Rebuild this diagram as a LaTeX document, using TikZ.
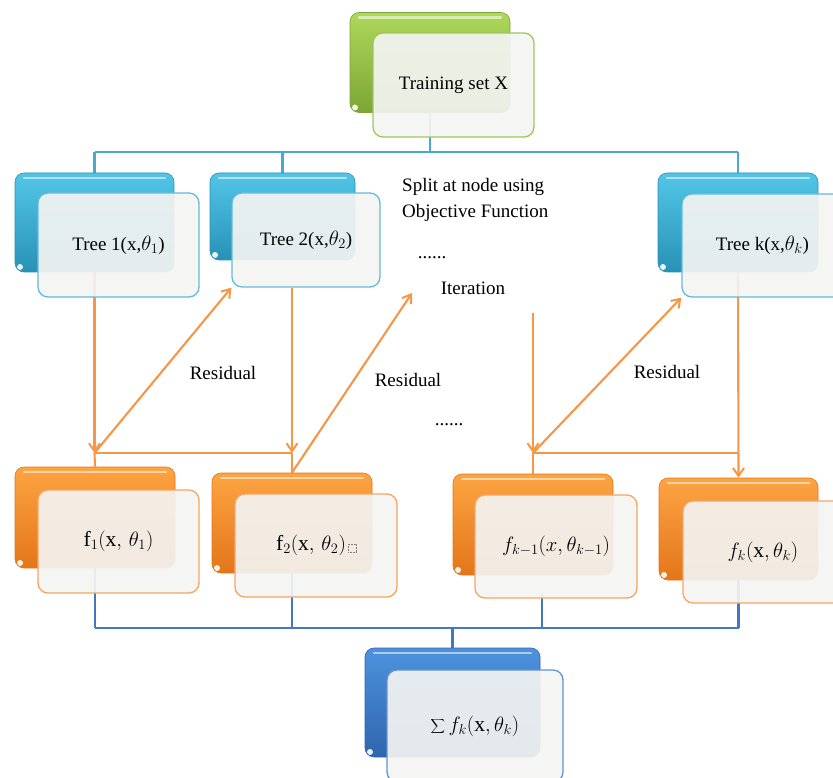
\documentclass[tikz,border=0pt]{standalone}
\usepackage{fontspec}
\setmainfont{Liberation Serif}
\usetikzlibrary{arrows.meta,calc}

% palette
\definecolor{grTop}{HTML}{AED85A}
\definecolor{grBot}{HTML}{7CA634}
\definecolor{grEdge}{HTML}{9CC75B}
\definecolor{blTop}{HTML}{52C6E8}
\definecolor{blBot}{HTML}{2891B6}
\definecolor{blEdge}{HTML}{62BBDA}
\definecolor{orTop}{HTML}{FDA443}
\definecolor{orBot}{HTML}{E3761A}
\definecolor{orEdge}{HTML}{F5A561}
\definecolor{dbTop}{HTML}{4E92DD}
\definecolor{dbBot}{HTML}{2E66AE}
\definecolor{dbEdge}{HTML}{5F93D2}
\definecolor{paper}{HTML}{F4F4F2}
\definecolor{busTop}{HTML}{47AACB}
\definecolor{busBot}{HTML}{4178C0}
\definecolor{flow}{HTML}{F79646}

\pgfdeclarelayer{bg}
\pgfsetlayers{bg,main}

\tikzset{
  backbox/.style={rounded corners=9pt, inner sep=0pt,
    top color=#1Top, bottom color=#1Bot, draw=#1Bot, line width=0.6pt,
    path picture={
      \draw[white, opacity=.55, line width=2.5pt, line cap=round]
        ([xshift=9pt,yshift=-5pt]path picture bounding box.north west) --
        ([xshift=-9pt,yshift=-5pt]path picture bounding box.north east);
      \fill[white, opacity=.9]
        ([xshift=5pt,yshift=5pt]path picture bounding box.south west) circle (3pt);
    }},
  frontbox/.style={rounded corners=10pt, inner sep=0pt, draw=#1Edge,
    line width=1.3pt, fill=paper, fill opacity=0.92, text opacity=1},
  mathtext/.style={font=\fontsize{21.5}{26}\selectfont},
  lbl/.style={inner sep=0pt, text=black},
  topbus/.style={draw=busTop, line width=2.6pt},
  botbus/.style={draw=busBot, line width=2.6pt},
  oline/.style={draw=flow, line width=2.1pt},
  oarrow/.style={draw=flow, line width=2.1pt,
    -{Straight Barb[length=8pt,width=11pt,line width=2pt]}},
  every node/.style={font=\fontsize{19}{26}\selectfont}
}

\begin{document}
\begin{tikzpicture}[x=1pt,y=-1pt]
\useasboundingbox (0,0) rectangle (833,778);
\clip (0,0) rectangle (833,778);

% ---- input data
\node[backbox=gr, minimum width=160pt, minimum height=100pt] (trainB) at (430,62.5) {};
\node[frontbox=gr, minimum width=161pt, minimum height=104pt] (trainF) at (453.5,85) {Training set X};

% ---- trees
\node[backbox=bl, minimum width=159pt, minimum height=99pt] (tree1B) at (94.5,222.5) {};
\node[frontbox=bl, minimum width=161pt, minimum height=104pt] (tree1F) at (118.5,245) {Tree 1(x,{\fontsize{21}{26}\selectfont$\theta_1$})};
\node[backbox=bl, minimum width=145pt, minimum height=87pt] (tree2B) at (282.5,216.5) {};
\node[frontbox=bl, minimum width=148pt, minimum height=94pt] (tree2F) at (306,240) {Tree 2(x,{\fontsize{21}{26}\selectfont$\theta_2$})};
\node[backbox=bl, minimum width=160pt, minimum height=99pt] (treekB) at (738,222.5) {};
\node[frontbox=bl, minimum width=161pt, minimum height=103pt] (treekF) at (762.5,245.5) {Tree k(x,{\fontsize{21}{26}\selectfont$\theta_k$})};

% ---- fitted functions
\node[backbox=or, minimum width=160pt, minimum height=101pt] (f1B) at (95,517.5) {};
\node[frontbox=or, mathtext, minimum width=161pt, minimum height=103pt] (f1F) at (118.5,541.5) {$\mathrm{f}_1(\mathrm{x},\,\theta_1)$};
\node[backbox=or, minimum width=160pt, minimum height=100pt] (f2B) at (292,523) {};
\node[frontbox=or, minimum width=162pt, minimum height=103pt] (f2F) at (316,545.5) {};
\node[lbl, mathtext] (f2lbl) at (311,545) {$\mathrm{f}_2(\mathrm{x},\,\theta_2)$};
\node[backbox=or, minimum width=160pt, minimum height=101pt] (fkm1B) at (533,524.5) {};
\node[frontbox=or, mathtext, minimum width=162pt, minimum height=103pt] (fkm1F) at (556,546.5) {$f_{k-1}(x,\theta_{k-1})$};
\node[backbox=or, minimum width=159pt, minimum height=102pt] (fkB) at (738.5,529) {};
\node[frontbox=or, mathtext, minimum width=160pt, minimum height=102pt] (fkF) at (763,552) {$f_k(\mathrm{x},\theta_k)$};

% ---- ensemble sum
\node[backbox=db, minimum width=175pt, minimum height=109pt] (sumB) at (452.5,702.5) {};
\node[frontbox=db, mathtext, minimum width=176pt, minimum height=112pt] (sumF) at (475,726) {$\displaystyle\sum\nolimits f_k(\mathrm{x},\theta_k)$};

% placeholder glyph after f2
\draw[densely dotted, gray, line width=0.6pt]
  ($(f2lbl.east)+(2,-1)$) rectangle ($(f2lbl.east)+(10,7)$);

% ---- free texts
\node[lbl, anchor=west, align=left] (split) at (402,200) {Split at node using\\Objective Function};
\node[lbl] (dots1) at (432,258) {......};
\node[lbl] (iter) at (473,288) {Iteration};
\node[lbl] (res1) at (223,373) {Residual};
\node[lbl] (res2) at (408,380) {Residual};
\node[lbl] (res3) at (667,372) {Residual};
\node[lbl] (dots2) at (449,425) {......};

% ---- connectors (behind the boxes)
\coordinate (tbus) at (0,152);
\coordinate (lvl) at (0,453);
\coordinate (bbus) at (0,628);
\coordinate (j1) at (tree1B.south |- lvl);
\coordinate (j2) at (f2B.north |- lvl);
\coordinate (j3) at (fkm1B.north |- lvl);
\coordinate (j4) at (fkB.north |- lvl);
\coordinate (iterTip) at (412,293);
\coordinate (iterFrom) at ($(j3)+(0,-140)$);
\coordinate (km1drop) at ($(fkm1F.south)+(-14,-5)$);

\begin{pgfonlayer}{bg}
  % data to trees
  \draw[topbus] (trainB.south) -- (trainB.south |- tbus);
  \draw[topbus] (tree1B.north |- tbus) -- (treekB.north |- tbus);
  \draw[topbus] (tree1B.north |- tbus) -- (tree1B.north);
  \draw[topbus] (tree2B.north |- tbus) -- (tree2B.north);
  \draw[topbus] (treekB.north |- tbus) -- (treekB.north);

  % boosting flow
  \draw[oarrow] (tree1B.south) -- (j1);
  \draw[oline] (j1) -- (j2);
  \draw[oline] (j1) -- (f1B.north);
  \draw[oarrow] (j1) -- (tree2F.south west);
  \draw[oarrow] (f2B.north |- tree2F.south) -- (j2);
  \draw[oline] (j2) -- (f2B.north);
  \draw[oarrow] (f2B.north) -- (iterTip);
  \draw[oarrow] (iterFrom) -- (j3);
  \draw[oline] (j3) -- (j4);
  \draw[oline] (j3) -- (fkm1B.north);
  \draw[oarrow] (j3) -- (treekF.south west);
  \draw[oarrow] (treekB.south) -- (fkB.north);

  % functions to sum
  \draw[botbus] (f1B.south) -- (f1B.south |- bbus);
  \draw[botbus] (f2B.south) -- (f2B.south |- bbus);
  \draw[botbus] (km1drop) -- (km1drop |- bbus);
  \draw[botbus] (fkB.south) -- (fkB.south |- bbus);
  \draw[botbus] (f1B.south |- bbus) -- (fkB.south |- bbus);
  \draw[botbus] (sumB.north) -- (sumB.north |- bbus);
\end{pgfonlayer}
\end{tikzpicture}
\end{document}
